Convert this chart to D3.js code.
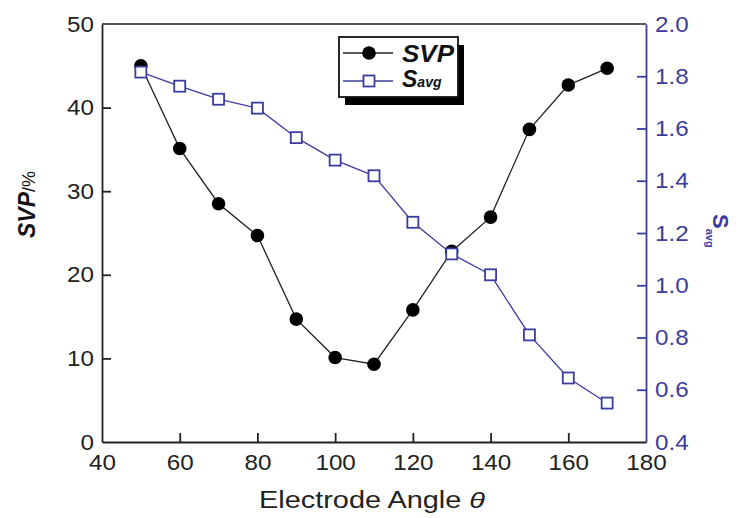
<!DOCTYPE html>
<html><head><meta charset="utf-8">
<script src="https://cdn.jsdelivr.net/npm/d3@7"></script>
<style>body{margin:0;background:#fff}svg{display:block}</style>
</head><body>
<script>
const angles = [50,60,70,80,90,100,110,120,130,140,150,160,170];
const svpValues = [45.0,35.1,28.5,24.7,14.7,10.1,9.3,15.8,22.8,26.9,37.4,42.7,44.7];
const savgValues = [1.816,1.762,1.712,1.678,1.565,1.479,1.419,1.241,1.120,1.040,0.810,0.645,0.549];
const xTicks = [40,60,80,100,120,140,160,180];
const leftTicks = [0,10,20,30,40,50];
const rightTicks = [0.4,0.6,0.8,1.0,1.2,1.4,1.6,1.8,2.0];

const W=738,H=518;
const L=102,R=646,T=24,B=442;
const blue="#3c3ca0";
const font="'Liberation Sans', Arial, sans-serif";
const svg=d3.select("body").append("svg").attr("width",W).attr("height",H).style("font-family",font);

const x=d3.scaleLinear().domain([40,180]).range([L,R]);
const yL=d3.scaleLinear().domain([0,50]).range([B,T]);
const yR=d3.scaleLinear().domain([0.4,2.0]).range([B,T]);

svg.append("line").attr("x1",L).attr("x2",R).attr("y1",T).attr("y2",T).attr("stroke","#222").attr("stroke-width",1.5);

const fs=22;
const gx=svg.append("g").attr("transform",`translate(0,${B})`)
  .call(d3.axisBottom(x).tickValues(xTicks).tickSizeInner(-9).tickSizeOuter(0).tickPadding(12));
gx.select(".domain").attr("stroke","#222").attr("stroke-width",1.8);
gx.selectAll(".tick line").attr("stroke","#222").attr("stroke-width",1.8);
gx.selectAll(".tick text").attr("font-size",fs).attr("fill","#222").attr("font-family",font)
  .attr("transform","scale(1.1,1)");
gx.selectAll(".tick").filter(d=>d===40||d===180).select("line").remove();

const gl=svg.append("g").attr("transform",`translate(${L},0)`)
  .call(d3.axisLeft(yL).tickValues(leftTicks).tickSizeInner(-9).tickSizeOuter(0).tickPadding(8));
gl.select(".domain").attr("stroke","#222").attr("stroke-width",1.8);
gl.selectAll(".tick line").attr("stroke","#222").attr("stroke-width",1.8);
gl.selectAll(".tick text").attr("font-size",fs).attr("fill","#222").attr("font-family",font)
  .attr("x",-8/1.1).attr("transform","scale(1.1,1)");
gl.selectAll(".tick").filter(d=>d===0||d===50).select("line").remove();

const gr=svg.append("g").attr("transform",`translate(${R},0)`)
  .call(d3.axisRight(yR).tickValues(rightTicks).tickSizeInner(-9).tickSizeOuter(0).tickPadding(9).tickFormat(d3.format(".1f")));
gr.select(".domain").attr("stroke",blue).attr("stroke-width",1.8);
gr.selectAll(".tick line").attr("stroke",blue).attr("stroke-width",1.8);
gr.selectAll(".tick text").attr("font-size",fs).attr("fill",blue).attr("font-family",font)
  .attr("x",9/1.1).attr("transform","scale(1.1,1)");
gr.selectAll(".tick").filter(d=>d===0.4||d===2.0).select("line").remove();

// SVP series
const svpData=angles.map((a,i)=>[a,svpValues[i]]);
svg.append("path").datum(svpData).attr("fill","none").attr("stroke","#222").attr("stroke-width",1.3)
  .attr("d",d3.line().x(d=>x(d[0])).y(d=>yL(d[1])));
svg.selectAll("circle.svp").data(svpData).enter().append("circle").attr("class","svp")
  .attr("cx",d=>x(d[0])).attr("cy",d=>yL(d[1])).attr("r",6.8).attr("fill","#000");

// Savg series
const savgData=angles.map((a,i)=>[a,savgValues[i]]);
svg.append("path").datum(savgData).attr("fill","none").attr("stroke",blue).attr("stroke-width",1.3)
  .attr("d",d3.line().x(d=>x(d[0])).y(d=>yR(d[1])));
const s=11;
svg.selectAll("rect.savg").data(savgData).enter().append("rect").attr("class","savg")
  .attr("x",d=>x(d[0])-s/2).attr("y",d=>yR(d[1])-s/2).attr("width",s).attr("height",s)
  .attr("fill","#fff").attr("stroke",blue).attr("stroke-width",1.8);

// legend
const lx=339,ly=37,lw=119,lh=60;
svg.append("rect").attr("x",lx+6).attr("y",ly+8).attr("width",lw).attr("height",lh).attr("fill","#000");
svg.append("rect").attr("x",lx).attr("y",ly).attr("width",lw).attr("height",lh).attr("fill","#fff").attr("stroke","#111").attr("stroke-width",1.8);
svg.append("line").attr("x1",lx+4).attr("x2",lx+54).attr("y1",53).attr("y2",53).attr("stroke","#222").attr("stroke-width",1.3);
svg.append("circle").attr("cx",lx+30).attr("cy",53).attr("r",6.8).attr("fill","#000");
svg.append("line").attr("x1",lx+4).attr("x2",lx+54).attr("y1",81).attr("y2",81).attr("stroke",blue).attr("stroke-width",1.3);
svg.append("rect").attr("x",lx+30-s/2).attr("y",81-s/2).attr("width",s).attr("height",s).attr("fill","#fff").attr("stroke",blue).attr("stroke-width",1.8);
svg.append("text").attr("x",lx+63).attr("y",62).attr("font-size",23).attr("font-weight","bold").attr("font-style","italic").attr("fill","#111")
  .attr("textLength",52).attr("lengthAdjust","spacingAndGlyphs").text("SVP");
const t2=svg.append("text").attr("x",lx+63).attr("y",87).attr("font-weight","bold").attr("font-style","italic").attr("fill","#111");
t2.append("tspan").attr("font-size",23).text("S");
t2.append("tspan").attr("font-size",14).text("avg");

// axis titles
svg.append("text").attr("x",372).attr("y",508).attr("text-anchor","middle").attr("font-size",23).attr("fill","#222")
  .attr("textLength",226).attr("lengthAdjust","spacingAndGlyphs")
  .html('Electrode Angle <tspan font-style="italic">θ</tspan>');
const yt=svg.append("text").attr("transform","translate(35,238) rotate(-90)").attr("text-anchor","start").attr("fill","#111");
yt.append("tspan").attr("font-size",23).attr("font-weight","bold").attr("font-style","italic").text("SVP");
yt.append("tspan").attr("font-size",18).text("/%");
const rt=svg.append("text").attr("transform","translate(713,214) rotate(90)").attr("text-anchor","start").attr("fill",blue).attr("font-weight","bold");
rt.append("tspan").attr("font-size",22).text("S");
rt.append("tspan").attr("font-size",11).attr("dy",7).text("avg");
</script>
</body></html>
